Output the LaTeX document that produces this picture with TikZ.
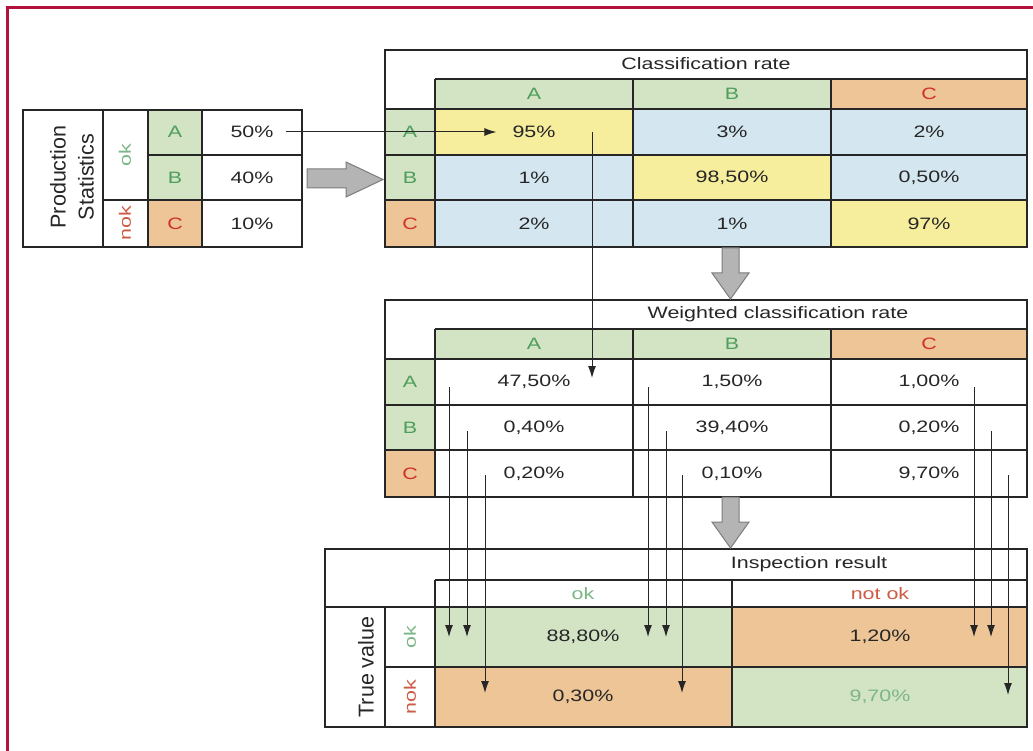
\documentclass[tikz,border=0pt]{standalone}
\usepackage{fontspec}
\setmainfont{Liberation Sans}[FakeStretch=1.3]
\newfontfamily\plainsans{Liberation Sans}
\usepackage{xcolor}
\usepackage{tikz}
\usetikzlibrary{arrows.meta}

\definecolor{framered}{HTML}{B3123E}
\definecolor{cellgreen}{HTML}{D3E4C5}
\definecolor{cellorange}{HTML}{EDC596}
\definecolor{cellyellow}{HTML}{F6EE9C}
\definecolor{cellblue}{HTML}{D4E6EF}
\definecolor{lettergreen}{HTML}{4E9E5C}
\definecolor{letterred}{HTML}{D2302A}
\definecolor{labelgreen}{HTML}{7DB686}
\definecolor{labelred}{HTML}{CC5C45}
\definecolor{ink}{HTML}{262626}
\definecolor{arrowgray}{HTML}{B4B4B4}
\definecolor{arrowedge}{HTML}{7C7C7C}

\tikzset{
  txt/.style={inner sep=0pt, text=ink, font=\fontsize{16.5}{19}\selectfont},
  keyok/.style={txt, text=lettergreen},
  keynok/.style={txt, text=letterred},
  sidetxt/.style={inner sep=0pt, rotate=90, text=ink, font=\plainsans\fontsize{21.5}{28}\selectfont},
  rule/.style={line width=1.3pt, draw=ink},
  border/.style={line width=2.6pt, draw=ink},
  wire/.style={line width=1pt, draw=ink},
  blockarrow/.style={fill=arrowgray, draw=arrowedge, line width=1pt, line join=miter}
}

\begin{document}
\begin{tikzpicture}[x=1pt, y=-1pt, >={Latex[length=12pt,width=8pt]}]
\useasboundingbox (0,0) rectangle (1033,751);
\fill[white] (0,0) rectangle (1033,751);
\draw[framered, line width=3pt] (7.5,751) -- (7.5,7.5) -- (1033,7.5);

\fill[cellgreen] (148,110) rectangle (202,200);
\fill[cellorange] (148,200) rectangle (202,247);
\draw[rule] (103,110) -- (103,247) (148,110) -- (148,247) (202,110) -- (202,247)
  (148,155) -- (302,155) (103,200) -- (302,200);
\draw[border] (23,110) rectangle (302,247);
\node[sidetxt, align=center] (prod) at (72,177) {Production\\Statistics};
\node[txt, rotate=90, text=labelgreen] (p-ok) at (125,155) {ok};
\node[txt, rotate=90, text=labelred] (p-nok) at (125,223) {nok};
\node[keyok] (p-kA) at (175,132) {A};
\node[keyok] (p-kB) at (175,177.5) {B};
\node[keynok] (p-kC) at (175,223.5) {C};
\foreach \n/\y/\v in {A/132/50, B/177.5/40, C/223.5/10}
  \node[txt] (p-\n) at (252,\y) {\v\%};

\fill[cellblue] (435,109) rectangle (1027,247);
\fill[cellyellow] (435,109) rectangle (633,155) (633,155) rectangle (831,200) (831,200) rectangle (1027,247);

\foreach \t/\top/\tx/\title in {c/50/706/Classification rate, w/300/778/Weighted classification rate}{
  \begin{scope}[shift={(0,\top)}]
    \fill[cellgreen] (435,29) rectangle (831,59) (385,59) rectangle (435,150);
    \fill[cellorange] (831,29) rectangle (1027,59) (385,150) rectangle (435,197);
    \draw[rule] (435,29) -- (1027,29) (385,59) -- (1027,59) (385,105) -- (1027,105) (385,150) -- (1027,150)
      (435,29) -- (435,197) (633,29) -- (633,197) (831,29) -- (831,197);
    \draw[border] (385,0) rectangle (1027,197);
    \node[txt] (\t-title) at (\tx,14) {\title};
    \node[keyok] (\t-hA) at (534,44) {A};
    \node[keyok] (\t-hB) at (732,44) {B};
    \node[keynok] (\t-hC) at (929,44) {C};
    \node[keyok] (\t-kA) at (410,82) {A};
    \node[keyok] (\t-kB) at (410,127.5) {B};
    \node[keynok] (\t-kC) at (410,173.5) {C};
  \end{scope}
}

\foreach \n/\x/\y/\v in {AA/534/132/95, AB/732/132/3, AC/929/132/2, BA/534/177.5/1, BB/732/177.5/{98,50},
    BC/929/177.5/{0,50}, CA/534/223.5/2, CB/732/223.5/1, CC/929/223.5/97}
  \node[txt] (c-\n) at (\x,\y) {\v\%};
\foreach \n/\x/\y/\v in {AA/534/382/{47,50}, AB/732/382/{1,50}, AC/929/382/{1,00}, BA/534/427.5/{0,40},
    BB/732/427.5/{39,40}, BC/929/427.5/{0,20}, CA/534/473.5/{0,20}, CB/732/473.5/{0,10}, CC/929/473.5/{9,70}}
  \node[txt] (w-\n) at (\x,\y) {\v\%};

\fill[cellgreen] (435,607) rectangle (732,667) (732,667) rectangle (1027,727);
\fill[cellorange] (732,607) rectangle (1027,667) (435,667) rectangle (732,727);
\draw[rule] (435,580) -- (1027,580) (325,607) -- (1027,607) (385,667) -- (1027,667)
  (385,607) -- (385,727) (435,580) -- (435,727) (732,580) -- (732,727);
\draw[border] (325,549) rectangle (1027,727);
\node[txt] (i-title) at (809,564) {Inspection result};
\node[txt, text=labelgreen] (i-hok) at (583,594) {ok};
\node[txt, text=labelred] (i-hnok) at (880,594) {not ok};
\node[sidetxt] (truev) at (366,667) {True value};
\node[txt, rotate=90, text=labelgreen] (i-ok) at (410,637) {ok};
\node[txt, rotate=90, text=labelred] (i-nok) at (410,697) {nok};
\node[txt] (i-oo) at (583,637) {88,80\%};
\node[txt] (i-on) at (880,637) {1,20\%};
\node[txt] (i-no) at (583,697) {0,30\%};
\node[txt, text=labelgreen] (i-nn) at (880,697) {9,70\%};

\draw[blockarrow] (307,169) -- (346,169) -- (346,162) -- (383,179.5) -- (346,197) -- (346,188) -- (307,188) -- cycle;
\foreach \t in {248,497}
  \draw[blockarrow] (722,\t) -- (739,\t) -- (739,\t+25) -- (749,\t+25) -- (730.5,\t+51) -- (712,\t+25) -- (722,\t+25) -- cycle;

\draw[->, wire] ([xshift=12pt]p-A.east) -- ([xshift=-16pt]c-AA.west);
\draw[->, wire] ([xshift=58pt]c-AA.center) -- ([shift={(58,-4)}]w-AA.center);
\foreach \x/\ya/\yb [count=\i] in {449/387/637, 467/431/637, 485/475/693, 648/387/637, 666/431/637,
    682/475/693, 974/387/637, 991/431/637, 1008/475/695}{
  \coordinate (d\i) at (\x,\ya);
  \coordinate (e\i) at (\x,\yb);
  \draw[->, wire] (d\i) -- (e\i);
}
\end{tikzpicture}
\end{document}
